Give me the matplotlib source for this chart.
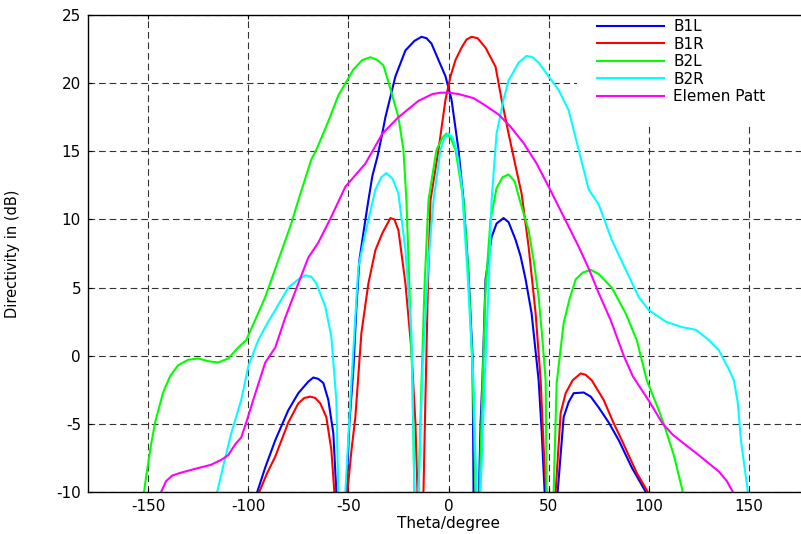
import numpy as np
import matplotlib
matplotlib.use("Agg")
import matplotlib.pyplot as plt
from matplotlib.patches import Rectangle

plt.rcParams['font.family'] = ['DejaVu Sans']
plt.rcParams['axes.unicode_minus'] = False

# B1L (blue)
b1l_theta = [-95.5, -91.5, -86.5, -80, -75, -70, -67.5, -65, -62.5, -60, -57.5, -56, -53.5,
             -51, -49.5, -47.5, -46, -44.5, -42, -40, -38, -35.5, -33.5, -31.5, -26.5, -21.5,
             -17, -13.5, -11, -8.5, -5, -1.5, 1.5, 5, 7.5, 10, 12, 12.5, 14,
             15.2, 16, 17, 18.5, 21.5, 24, 27.5, 30, 33.5, 36, 38.5, 41.5, 45, 46.5, 48, 51,
             54.5, 57.5, 60, 62.5, 67.5, 71, 75, 80, 85, 91.5, 98.5]
b1l_val = [-10, -8.2, -6.2, -4.0, -2.75, -1.9, -1.6, -1.7, -2.0, -3.25, -5.7, -10, -30,
           -10, -5, -1, 3.5, 7, 9.5, 11.4, 13.2, 14.6, 16.0, 17.5, 20.5, 22.4,
           23.1, 23.4, 23.3, 22.9, 21.7, 20.5, 18.8, 15.1, 11.4, 6, 0, -10, -30,
           -10, -5, -1.5, 5.6, 8.7, 9.7, 10.1, 9.8, 8.5, 7.3, 5.6, 3.1, -1.8, -5.5, -10, -30,
           -10, -4.5, -3.4, -2.75, -2.7, -3.0, -3.8, -4.9, -6.2, -8.2, -10]

# B1R (red)
b1r_theta = [-94.5, -90.5, -86.5, -80, -75, -72, -69, -66.5, -64, -61, -58.5, -57, -54,
             -50.5, -48.5, -46.5, -43.5, -40, -36.5, -33, -29, -27, -25, -21.5, -18.5, -16.5,
             -15.5, -14.2, -12.5, -11.5, -10.3, -9, -5, -1.5, 1, 3.5, 6.5, 9, 11.5, 14.5,
             18.5, 23.5, 26.5, 30, 33.5, 36.5, 40, 43.5, 46, 47.5, 48.8, 51.3, 53.5, 56,
             58.5, 62, 66, 68.5, 71.5, 77.5, 82, 86.5, 94, 99.5]
b1r_val = [-10, -8.6, -7.4, -4.9, -3.5, -3.1, -3.0, -3.1, -3.5, -4.5, -6.9, -10, -30,
           -10, -7, -4.5, 1.65, 5.3, 7.75, 9.0, 10.1, 10.0, 9.2, 5.3, 0.4, -5,
           -10, -30, -10, -3, 5, 11.4, 15.1, 18.8, 20.5, 21.7, 22.6, 23.2, 23.4, 23.3,
           22.6, 21.2, 18.8, 16.3, 13.9, 11.9, 8.0, 3.1, -1.8, -6.7, -10, -30, -10, -4.2,
           -2.75, -1.8, -1.3, -1.4, -1.8, -3.25, -4.8, -6.2, -8.6, -10]

# B2L (green)
b2l_theta = [-152, -151, -148.5, -146.5, -142.5, -139, -135, -130, -125, -120, -115, -110,
             -105, -101, -96, -91.5, -85, -78.5, -75, -68.5, -66, -60, -55, -47.5, -43, -39,
             -35.5, -32.5, -30, -25, -22.5, -21, -19.5, -18, -17, -16, -15, -13.5, -12, -10,
             -6, -3, -1, 1, 3.5, 7.5, 10, 12, 13.5, 14.5, 15.5, 17, 18.5, 21, 24, 27, 30,
             33, 36, 40, 42.5, 45, 47, 48.5, 49, 51, 52.5, 54, 57.5, 60.5, 63.5, 67, 71, 75,
             81.5, 88.5, 94, 99, 105, 107.5, 112.5, 117]
b2l_val = [-10, -8.9, -6.5, -4.9, -2.7, -1.5, -0.7, -0.3, -0.2, -0.4, -0.5, -0.2,
           0.6, 1.15, 2.8, 4.3, 7.0, 9.7, 11.4, 14.4, 15.1, 17.2, 19.1, 21.0, 21.7, 21.9,
           21.7, 21.3, 20.1, 17.5, 15.1, 11.4, 5, -2, -10, -30, -10, -2, 5, 11.4,
           15.1, 16.0, 16.3, 16.0, 15.1, 11.4, 6, -1, -10, -30, -10, -2, 5, 10, 12.3, 13.1, 13.3,
           12.8, 11.2, 9.2, 7, 4.3, 1.0, -1.8, -10, -30, -10, -2, 2.4, 4.2, 5.6, 6.1, 6.3, 6.0,
           5.0, 3.1, 1.15, -1.8, -4.0, -5.0, -7.3, -10]

# B2R (cyan)
b2r_theta = [-115.5, -112, -108.5, -103.5, -100, -95, -90, -86.5, -80, -75, -71.5, -68.5,
             -66, -61.5, -58.5, -56, -55, -53.2, -51.5, -48.5, -45, -41.5, -36.5, -33.5, -31,
             -28, -25, -21.5, -18.5, -17, -16, -15, -13, -10, -7.5, -4, -2, 0, 2, 4, 6.5, 9.5,
             12.5, 14, 15, 16, 18, 20, 21.5, 24, 27.5, 30, 35, 39, 42, 45, 50, 55, 60, 65, 70,
             75, 81.5, 88.5, 95, 100, 108.5, 116.5, 123.5, 130, 135, 140, 142.5, 144.5, 146,
             149.5]
b2r_val = [-10, -7.8, -5.7, -3.25, -0.8, 1.15, 2.5, 3.35, 5.0, 5.6, 5.9, 5.8,
           5.3, 3.6, 1.4, -3.25, -10, -30, -10, -2.0, 6.5, 9.0, 12.2, 13.1, 13.4,
           13.0, 11.9, 7.75, 1.7, -10, -30, -10, -1, 7, 11.4, 15.1, 16.0, 16.3, 16.0, 15.1, 12.7, 6,
           -2, -10, -30, -10, -2, 5, 11.4, 16.3, 18.8, 20.2, 21.5, 22.0, 21.9, 21.5, 20.5, 19.5, 18.0, 15.1, 12.2,
           11.1, 8.5, 6.3, 4.3, 3.35, 2.5, 2.1, 1.9, 1.15, 0.4, -1.0, -1.8, -3.5, -6.2,
           -10]

# Elemen Patt (magenta)
elem_theta = [-143.5, -141, -138, -134, -126.5, -118.5, -113, -110, -106.5, -103.5, -101,
              -97.5, -91.5, -86.5, -81.5, -75, -70, -65, -58.5, -51.5, -41.5, -33, -25, -15,
              -8, -4, 0, 5, 12.5, 18, 25, 31, 37.5, 44, 50, 56.5, 65, 70, 75, 81, 87.5, 92,
              100, 107, 112, 118, 125, 130, 135, 139, 142]
elem_val = [-10, -9.2, -8.8, -8.6, -8.3, -8.0, -7.6, -7.3, -6.5, -6.0, -4.9,
            -3.25, -0.5, 0.6, 2.8, 5.3, 7.2, 8.3, 10.2, 12.4, 14.1, 16.3, 17.5, 18.7,
            19.2, 19.3, 19.3, 19.2, 18.9, 18.4, 17.7, 16.8, 15.6, 14.1, 12.4, 10.5, 8.0, 6.4, 4.6, 2.6, 0, -1.5,
            -3.3, -5, -5.8, -6.5, -7.3, -7.9, -8.5, -9.2, -10]

series = [
    (b1l_theta, b1l_val, 'B1L', 'blue'),
    (b1r_theta, b1r_val, 'B1R', 'red'),
    (b2l_theta, b2l_val, 'B2L', '#00ff00'),
    (b2r_theta, b2r_val, 'B2R', 'cyan'),
    (elem_theta, elem_val, 'Elemen Patt', 'magenta'),
]

fig = plt.figure(figsize=(8.01, 5.34), dpi=100)
W, H = 801, 534
# axes box in pixels: left 88, right 809 (cut off), top 15, bottom 492
ax = fig.add_axes([88 / W, (H - 492) / H, (809 - 88) / W, (492 - 15) / H])

for th, v, lab, col in series:
    ax.plot(th, v, color=col, lw=1.5, label=lab)

ax.set_xlim(-180, 180)
ax.set_ylim(-10, 25)
ax.set_xticks([-150, -100, -50, 0, 50, 100, 150])
ax.set_yticks([-10, -5, 0, 5, 10, 15, 20, 25])
ax.grid(True, linestyle=(0, (6, 3.5)), lw=0.8, color='0.2')
ax.tick_params(direction='in', length=3, labelsize=11, pad=5, top=True, right=True)
for s in ax.spines.values():
    s.set_linewidth(1.0)

ax.set_xlabel('Theta/degree', fontsize=11)
ax.xaxis.set_label_coords(0.5, -(516 - 492) / 477)
ax.set_ylabel('Directivity in (dB)', fontsize=10.5)
ax.yaxis.set_label_coords((20 - 88) / 721, 0.5)

# white legend area
ax.add_patch(Rectangle(((577 - 88) / 721, (492 - 123) / 477), 1, 1,
                       transform=ax.transAxes, facecolor='white', edgecolor='none', zorder=1.8))
ax.legend(loc='upper left', bbox_to_anchor=((597 - 88) / 721, 1 - 4 / 477), frameon=False,
          borderpad=0, borderaxespad=0, fontsize=11, handlelength=4.4, handletextpad=0.6,
          labelspacing=0.17)

fig.savefig('out.png', dpi=100)
